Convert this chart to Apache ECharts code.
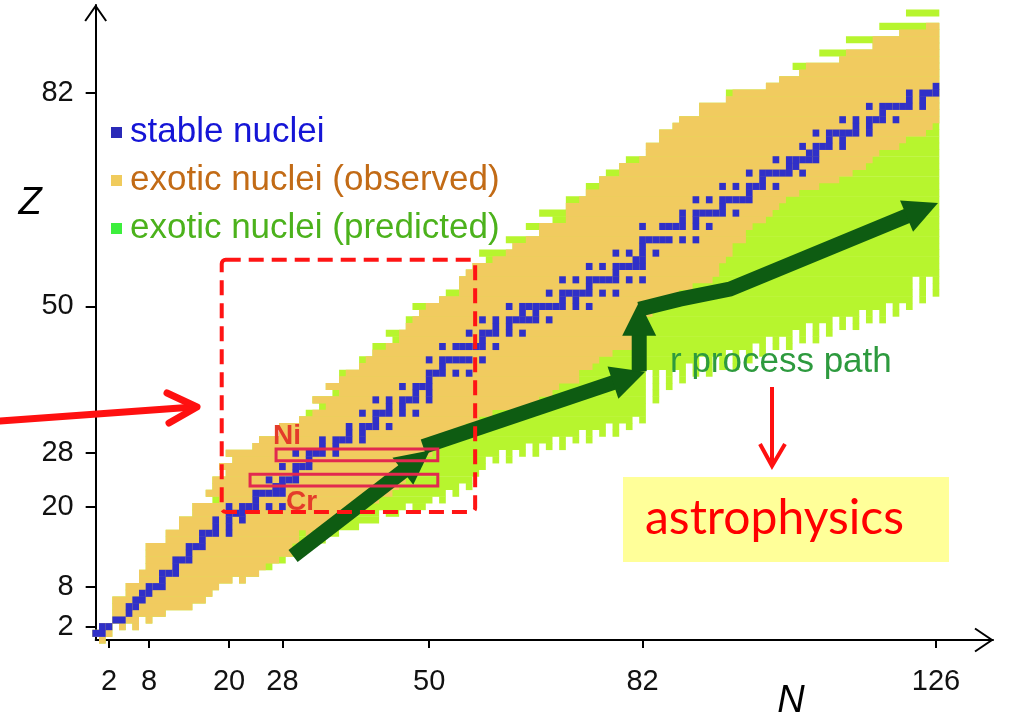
<!DOCTYPE html>
<html>
<head>
<meta charset="utf-8">
<title>Chart of nuclides</title>
<script src="https://cdn.jsdelivr.net/npm/echarts@6.0.0/dist/echarts.min.js"></script>
<style>
html,body{margin:0;padding:0;background:#ffffff;}
#chart{width:1010px;height:721px;}
</style>
</head>
<body>
<div id="chart"></div>
<script>
// ---------------- data ----------------
// axis ticks
const xTicks = [2, 8, 20, 28, 50, 82, 126];
const yTicks = [2, 8, 20, 28, 50, 82];

// observed nuclei: lowest N for each Z (index = Z, 0..92)
const obsLeft = [1,
  0,1,3,3,3,3,5,5,7,7,
  8,8,8,8,11,11,13,13,15,15,
  19,17,18,18,20,19,21,20,24,25,
  28,28,31,33,35,33,37,35,37,38,
  40,41,42,44,46,46,47,48,49,50,
  52,55,55,55,56,57,60,62,63,65,
  67,67,71,71,71,73,74,76,76,79,
  79,82,83,83,85,85,87,88,91,91,
  95,96,101,103,106,107,112,113,117,117,
  121,125];
// observed nuclei: lowest Z for each N (index = N, 0..126)
const obsBottom = [
  1,0,1,3,2,3,2,4,3,4,
  4,5,5,5,5,6,6,7,8,9,
  9,10,9,10,10,11,12,12,13,13,
  15,17,16,17,17,18,18,19,19,20,
  20,21,21,22,22,23,24,25,26,27,
  28,29,30,31,31,32,33,33,34,34,
  35,35,35,35,35,35,36,37,37,38,
  39,39,39,41,41,42,43,43,44,44,
  44,44,44,49,50,50,51,51,53,53,
  54,54,54,55,57,58,60,60,62,63,
  63,64,65,66,67,67,68,68,68,69,
  69,69,70,70,71,71,72,73,74,74,
  74,75,76,76,76,77,78];
// predicted nuclei: lowest N for each Z (index = Z, 0..94)
const predLeft = [1,
  0,1,3,3,3,3,5,5,7,7,
  8,8,8,8,11,11,13,13,15,15,
  18,17,18,18,20,19,21,20,24,25,
  28,28,31,32,34,33,36,35,37,37,
  40,40,42,42,45,44,47,47,49,48,
  52,53,55,55,56,57,59,58,63,62,
  67,65,69,67,71,71,74,74,76,77,
  79,80,83,83,85,85,87,88,91,91,
  95,95,101,103,106,105,112,109,117,113,
  121,118,127,122];
// predicted nuclei: lowest Z for each N (index = N, 0..126)
const predBottom = [
  1,0,1,3,2,3,2,4,3,4,
  4,5,5,5,5,6,6,7,8,9,
  9,10,9,10,10,11,11,12,12,13,
  13,14,14,15,15,16,16,17,17,17,
  18,18,18,20,19,19,20,21,20,20,
  21,22,21,23,22,24,23,25,26,28,
  27,29,27,29,28,30,28,30,29,31,
  29,31,30,32,30,32,31,33,31,33,
  32,34,33,41,36,41,38,41,39,42,
  40,43,40,43,41,44,41,44,42,45,
  43,46,44,46,44,47,45,48,45,48,
  46,49,47,49,47,50,48,50,48,51,
  49,51,50,55,51,55,52];
// stable nuclei: neutron numbers for each Z (index = Z)
const stableN = [
  [],
  [0,1],[1,2],[3,4],[5],[5,6],[6,7],[7,8],[8,9,10],[10],[10,11,12],
  [12],[12,13,14],[14],[14,15,16],[16],[16,17,18,20],[18,20],[18,20,22],[20,21,22],[20,22,23,24,26,28],
  [24],[24,25,26,27,28],[27,28],[26,28,29,30],[30],[28,30,31,32],[32],[30,32,33,34,36],[34,36],[34,36,37,38,40],
  [38,40],[38,40,41,42,44],[42],[40,42,43,44,46,48],[44,46],[42,44,46,47,48,50],[48,50],[46,48,49,50],[50],[50,51,52,54,56],
  [52],[50,52,53,54,55,56,58],[],[52,54,55,56,57,58,60],[58],[56,58,59,60,62,64],[60,62],[58,60,62,63,64,65,66,68],[64,66],[62,64,65,66,67,68,69,70,72,74],
  [70,72],[68,70,71,72,73,74,76,78],[74],[70,72,74,75,76,77,78,80,82],[78],[74,76,78,79,80,81,82],[81,82],[78,80,82,84],[82],[82,83,84,85,86,88,90],
  [],[82,85,86,87,88,90,92],[88,90],[88,90,91,92,93,94,96],[94],[90,92,94,95,96,97,98],[98],[94,96,98,99,100,102],[100],[98,100,101,102,103,104,106],
  [104,105],[102,104,105,106,107,108],[107,108],[106,108,109,110,112],[110,112],[108,110,111,112,113,114,116],[114,116],[112,114,116,117,118,120],[118],[116,118,119,120,121,122,124],
  [122,124],[122,124,125,126],[126]
];
// r-process path (N, Z) polylines, each ending in an arrow head
const rPath = [
  [[29.6, 12.6], [50.1, 28.4]],
  [[49.1, 29.0], [82.4, 40.2]],
  [[81.5, 40.3], [81.5, 50.7]],
  [[81.5, 49.6], [87.6, 51.1], [95.1, 52.6], [126.3, 65.5]]
];
// ---------------- layout / style ----------------
const N_MAX = 126;
const X_MAX = 134.55, Y_MAX = 95.2;
const FONT = '"Liberation Sans", Arial, sans-serif';
const C_STABLE = '#3030c8', C_OBS = '#f1cb5f', C_PRED = '#b7f52e', C_PATH = '#0e5c12';

function buildRuns(left, bottom) {
  const out = [];
  for (let z = 0; z < left.length; z++) {
    let s = -1, e = -1;
    for (let n = left[z]; n <= N_MAX; n++) {
      if (bottom[n] <= z) { if (s < 0) s = n; e = n; }
      else if (s >= 0) { out.push([s, e, z]); s = -1; }
    }
    if (s >= 0) out.push([s, e, z]);
  }
  return out;
}
const greenRuns = buildRuns(predLeft, predBottom);
const orangeRuns = buildRuns(obsLeft, obsBottom);
const blueCells = [];
stableN.forEach((list, z) => list.forEach(n => blueCells.push([n, n, z])));

function cellRenderer(color) {
  return function (params, api) {
    const a = api.coord([api.value(0) - 0.5, api.value(2) + 0.5]);
    const b = api.coord([api.value(1) + 0.5, api.value(2) - 0.5]);
    return { type: 'rect', shape: { x: a[0], y: a[1] - 0.2, width: b[0] - a[0], height: b[1] - a[1] + 0.4 },
      style: { fill: color } };
  };
}
function arrowRenderer(params, api) {
  const pts = rPath[params.dataIndex].map(p => api.coord(p));
  const tip = pts[pts.length - 1], prev = pts[pts.length - 2];
  const dx = tip[0] - prev[0], dy = tip[1] - prev[1];
  const len = Math.hypot(dx, dy), ux = dx / len, uy = dy / len;
  const L = 34, W = 17;
  const base = [tip[0] - ux * L, tip[1] - uy * L];
  const body = pts.slice(0, -1).concat([[base[0] + ux * 3, base[1] + uy * 3]]);
  return { type: 'group', children: [
    { type: 'polyline', shape: { points: body },
      style: { stroke: C_PATH, lineWidth: 15, fill: null, lineJoin: 'miter', lineCap: 'butt' } },
    { type: 'polygon', shape: { points: [tip, [base[0] - uy * W, base[1] + ux * W], [base[0] + uy * W, base[1] - ux * W]] },
      style: { fill: C_PATH } }
  ] };
}

const chart = echarts.init(document.getElementById('chart'), null, { renderer: 'canvas' });
chart.setOption({
  animation: false,
  backgroundColor: '#ffffff',
  grid: { left: 95.67, top: 5, width: 897.33, height: 635, containLabel: false },
  xAxis: {
    type: 'value', min: 0, max: X_MAX,
    axisLine: { show: true, onZero: false, lineStyle: { color: '#000', width: 2 } },
    axisTick: { show: true, customValues: xTicks, length: 8, lineStyle: { color: '#000', width: 2 } },
    axisLabel: { customValues: xTicks, fontSize: 29, fontFamily: FONT, color: '#111', margin: 27 },
    splitLine: { show: false }
  },
  yAxis: {
    type: 'value', min: 0, max: Y_MAX,
    axisLine: { show: true, onZero: false, lineStyle: { color: '#000', width: 2 } },
    axisTick: { show: true, customValues: yTicks, length: 10, lineStyle: { color: '#000', width: 2 } },
    axisLabel: { customValues: yTicks, fontSize: 29, fontFamily: FONT, color: '#111', margin: 22 },
    splitLine: { show: false }
  },
  legend: {
    orient: 'vertical', left: 106, top: 110, itemWidth: 11, itemHeight: 11, itemGap: 13,
    icon: 'rect', selectedMode: false,
    textStyle: { fontSize: 35, fontFamily: FONT, lineHeight: 34, padding: [0, 0, 0, 3] },
    data: [
      { name: 'stable nuclei', itemStyle: { color: '#2a2ab8' }, textStyle: { color: '#1515d6' } },
      { name: 'exotic nuclei (observed)', itemStyle: { color: '#f0cb5c' }, textStyle: { color: '#c26b16' } },
      { name: 'exotic nuclei (predicted)', itemStyle: { color: '#3cef3c' }, textStyle: { color: '#4cb21c' } }
    ]
  },
  series: [
    { type: 'custom', name: 'exotic nuclei (predicted)', renderItem: cellRenderer(C_PRED), data: greenRuns,
      encode: { x: [0, 1], y: 2 }, itemStyle: { color: C_PRED }, z: 1, silent: true, clip: false },
    { type: 'custom', name: 'exotic nuclei (observed)', renderItem: cellRenderer(C_OBS), data: orangeRuns,
      encode: { x: [0, 1], y: 2 }, itemStyle: { color: C_OBS }, z: 2, silent: true, clip: false },
    { type: 'custom', name: 'stable nuclei', renderItem: cellRenderer(C_STABLE), data: blueCells,
      encode: { x: [0, 1], y: 2 }, itemStyle: { color: C_STABLE }, z: 3, silent: true, clip: false },
    { type: 'custom', name: 'r process path', renderItem: arrowRenderer, data: rPath.map((p, i) => [i]),
      z: 4, silent: true, clip: false }
  ]
});

// ---------------- annotations ----------------
const P = (n, z) => chart.convertToPixel({ gridIndex: 0 }, [n, z]);
function boxFromData(n0, n1, z0, z1, style) {
  const a = P(n0, z1), b = P(n1, z0);
  return { type: 'rect', shape: { x: a[0], y: a[1], width: b[0] - a[0], height: b[1] - a[1], r: style.r || 0 },
    style: Object.assign({ fill: null }, style.s), z: 20 };
}
function txt(text, x, y, o) {
  return { type: 'text', z: 30, style: Object.assign({ text: text, x: x, y: y, fill: '#000',
    fontFamily: FONT, fontSize: 30, align: 'left', verticalAlign: 'middle',
    textAlign: 'left', textVerticalAlign: 'middle' }, o) };
}
const gx0 = P(0, 0);
const yTop = P(0, Y_MAX)[1];
const xRight = P(X_MAX, 0)[0];
chart.setOption({
  graphic: [
    // axis arrow heads
    { type: 'polyline', z: 25, shape: { points: [[gx0[0] - 10.5, yTop + 16], [gx0[0], yTop + 1], [gx0[0] + 10.5, yTop + 16]] },
      style: { stroke: '#000', lineWidth: 2, fill: null } },
    { type: 'polyline', z: 25, shape: { points: [[xRight - 18, gx0[1] - 11.5], [xRight - 1, gx0[1]], [xRight - 18, gx0[1] + 11.5]] },
      style: { stroke: '#000', lineWidth: 2, fill: null } },
    // axis titles
    txt('Z', 30, 203, { fontSize: 38, fontStyle: 'italic', align: 'center', textAlign: 'center', fill: '#000' }),
    txt('N', 791, 701, { fontSize: 38, fontStyle: 'italic', align: 'center', textAlign: 'center', fill: '#000' }),
    // dashed region of interest
    boxFromData(18.9, 56.9, 19.2, 57.0, { r: 4, s: { stroke: '#ff1414', lineWidth: 4, lineDash: [15, 8] } }),
    // Ni and Cr chains
    boxFromData(27.05, 51.3, 26.88, 28.64, { s: { stroke: '#e2294f', lineWidth: 3 } }),
    boxFromData(23.15, 51.3, 23.1, 24.84, { s: { stroke: '#e2294f', lineWidth: 3 } }),
    txt('Ni', 273, 436, { fontSize: 28, fontWeight: 'bold', fill: '#e43c2a' }),
    txt('Cr', 286, 502, { fontSize: 28, fontWeight: 'bold', fill: '#e43c2a' }),
    // red arrow from the left
    { type: 'line', z: 25, shape: { x1: 0, y1: 421, x2: 194, y2: 407 },
      style: { stroke: '#ff1010', lineWidth: 7, lineCap: 'round' } },
    { type: 'polyline', z: 25, shape: { points: [[167, 393], [197, 407], [169, 423]] },
      style: { stroke: '#ff1010', lineWidth: 7, fill: null, lineCap: 'round', lineJoin: 'round' } },
    // r process text
    txt('r process path', 670, 362, { fontSize: 35, fill: '#2d9a3e' }),
    // down arrow
    { type: 'line', z: 25, shape: { x1: 772, y1: 387, x2: 772, y2: 464 },
      style: { stroke: '#ff1010', lineWidth: 4 } },
    { type: 'polyline', z: 25, shape: { points: [[760, 444], [772, 466], [785, 444]] },
      style: { stroke: '#ff1010', lineWidth: 4, fill: null, lineJoin: 'miter' } },
    // astrophysics box
    { type: 'rect', z: 20, shape: { x: 623, y: 477, width: 326, height: 85 }, style: { fill: '#ffff99' } },
    txt('astrophysics', 645, 519, { fontSize: 48, fontFamily: 'Lato, "Open Sans", sans-serif', fill: '#ff0000' })
  ]
});
</script>
</body>
</html>
